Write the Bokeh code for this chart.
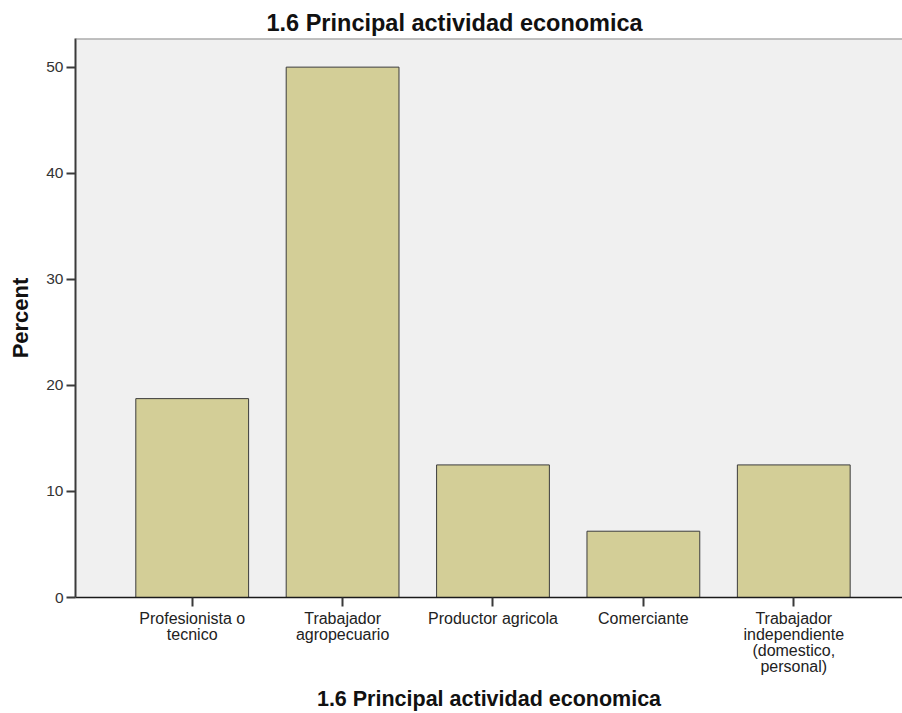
from math import pi
from bokeh.plotting import figure
from bokeh.models import ColumnDataSource, Range1d, FixedTicker, Span
from bokeh.embed import file_html
from bokeh.resources import INLINE

# ---- data ----
categories = [
    "Profesionista o\ntecnico",
    "Trabajador\nagropecuario",
    "Productor agricola",
    "Comerciante",
    "Trabajador\nindependiente\n(domestico,\npersonal)",
]
percent = [18.75, 50.0, 12.5, 6.25, 12.5]
y_ticks = [0, 10, 20, 30, 40, 50]
title_text = "1.6 Principal actividad economica"
y_label = "Percent"

positions = list(range(1, len(categories) + 1))
source = ColumnDataSource(data=dict(x=positions, pct=percent, cat=categories))

FONT = "Liberation Sans"

p = figure(
    width=902, height=713,
    x_range=Range1d(0.224, 5.723),
    y_range=Range1d(0, 52.7),
    output_backend="svg", toolbar_location=None,
    min_border_left=75, min_border_right=0,
    min_border_top=38, min_border_bottom=116,
)
p.background_fill_color = "#F0F0F0"
p.border_fill_color = "white"
p.outline_line_color = None
p.xgrid.visible = False
p.ygrid.visible = False

p.vbar(x="x", top="pct", width=0.75, source=source,
       fill_color="#D3CE97", line_color="#3c3c3c", line_width=1)

# top border of frame
p.add_layout(Span(location=52.7, dimension="width", line_color="#8a8a8a", line_width=2))

# title
p.title.text = title_text
p.title.align = "left"
p.title.offset = 191
p.title.standoff = 5
p.title.text_font = FONT
p.title.text_font_style = "bold"
p.title.text_font_size = "23.5px"
p.title.text_color = "#111111"

# y axis
ya = p.yaxis[0]
ya.ticker = FixedTicker(ticks=y_ticks)
ya.axis_line_color = "#3a3a3a"
ya.axis_line_width = 2
ya.major_tick_line_color = "#3a3a3a"
ya.major_tick_line_width = 2
ya.major_tick_out = 9
ya.major_tick_in = 0
ya.minor_tick_line_color = None
ya.major_label_text_font = FONT
ya.major_label_text_font_size = "15.5px"
ya.major_label_text_color = "#333333"
ya.major_label_standoff = 3
ya.axis_label = y_label
ya.axis_label_text_font = FONT
ya.axis_label_text_font_style = "bold"
ya.axis_label_text_font_size = "22px"
ya.axis_label_text_color = "#111111"
ya.axis_label_standoff = 10

# x axis
xa = p.xaxis[0]
xa.ticker = FixedTicker(ticks=positions)
xa.major_label_overrides = {pos: cat for pos, cat in zip(positions, categories)}
xa.axis_line_color = "#1a1a1a"
xa.axis_line_width = 1.5
xa.major_tick_line_color = "#3a3a3a"
xa.major_tick_line_width = 2
xa.major_tick_out = 9
xa.major_tick_in = 0
xa.minor_tick_line_color = None
xa.major_label_text_font = FONT
xa.major_label_text_font_size = "16px"
xa.major_label_text_color = "#222222"
xa.major_label_text_line_height = 0.95
xa.major_label_standoff = 3
xa.axis_label = title_text
xa.axis_label_text_font = FONT
xa.axis_label_text_font_style = "bold"
xa.axis_label_text_font_size = "21.5px"
xa.axis_label_text_color = "#111111"
xa.axis_label_standoff = 9

open("out.html", "w").write(file_html(p, INLINE))
